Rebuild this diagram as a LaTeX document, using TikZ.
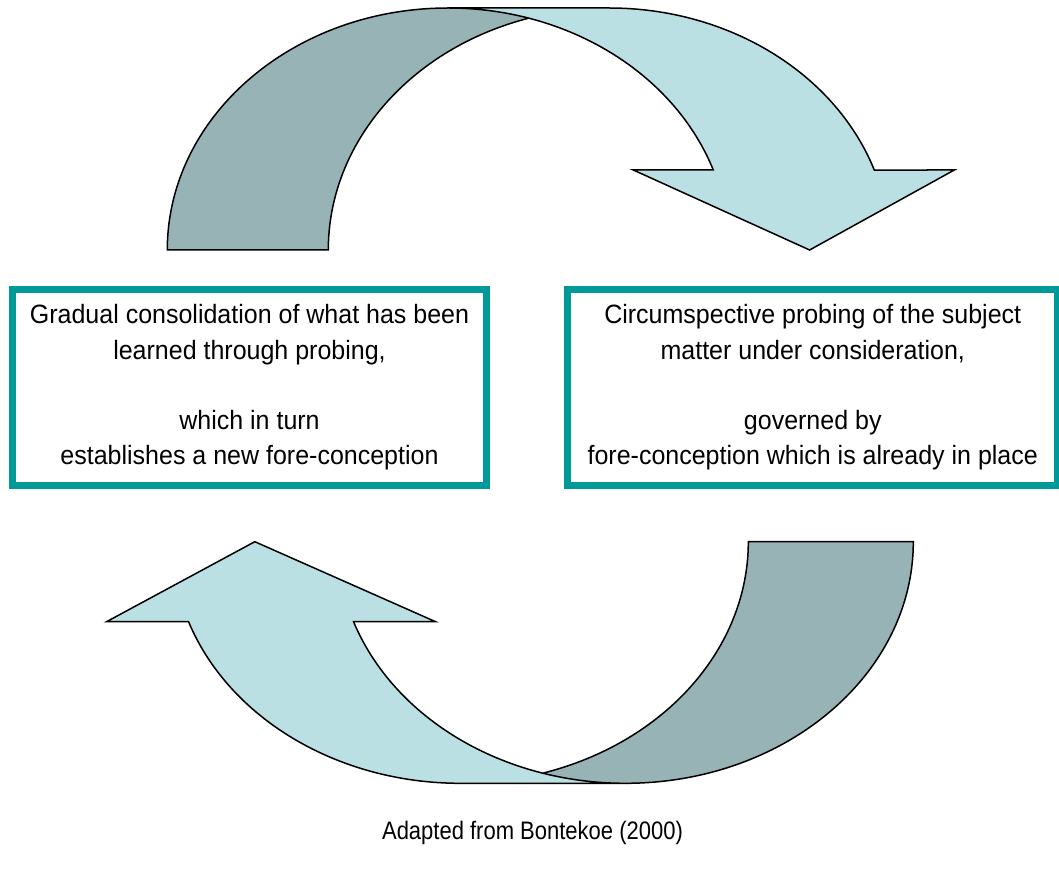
\documentclass[tikz,border=0pt]{standalone}
\usepackage{graphicx}
\usepackage{fontspec}
\setmainfont{Liberation Sans}
\definecolor{bandlight}{RGB}{187,224,227}
\definecolor{banddark}{RGB}{151,179,182}
\definecolor{boxteal}{RGB}{0,153,153}

% slightly taller lettering
\newcommand{\tallline}[1]{\scalebox{1}[1.06]{#1}}
\newcommand{\tallcaption}[1]{\scalebox{1}[1.15]{#1}}

% Curved ribbon arrow: band thickness, head width, head length,
% arc height, horizontal arc radius.  Local origin = outer corner of the foot.
\newcommand{\curvedband}[5]{%
  \pgfmathsetmacro{\bTh}{#1}%
  \pgfmathsetmacro{\bAw}{#2}%
  \pgfmathsetmacro{\bAh}{#3}%
  \pgfmathsetmacro{\bH}{#4}%
  \pgfmathsetmacro{\bR}{#5}%
  \pgfmathsetmacro{\bPhi}{asin(\bAh/\bH)}%
  \pgfmathsetmacro{\bDx}{\bR*cos(\bPhi)}%
  \pgfmathsetmacro{\bPsi}{acos(\bTh/(2*\bR))}%
  \pgfmathsetmacro{\bDh}{(\bAw-\bTh)/2}%
  \pgfmathsetmacro{\bXi}{\bR+\bDx}%
  \pgfmathsetmacro{\bXo}{\bR+\bTh+\bDx}%
  \pgfmathsetmacro{\bTip}{2*\bR+\bTh/2}%
  \pgfmathsetmacro{\bIx}{\bR+\bTh/2}%
  \pgfmathsetmacro{\bIy}{\bH*sin(\bPsi)}%
  % front face of the ribbon
  \fill[bandlight] (\bTip,0) -- ({\bXi-\bDh},\bAh) -- (\bXi,\bAh)
    arc[start angle=\bPhi, end angle=90, x radius=\bR, y radius=\bH]
    -- ++(\bTh,0)
    arc[start angle=90, end angle=\bPhi, x radius=\bR, y radius=\bH]
    -- ({\bXo+\bDh},\bAh) -- cycle;
  % back face of the ribbon
  \fill[banddark] (0,0)
    arc[start angle=180, end angle=\bPsi, x radius=\bR, y radius=\bH]
    arc[start angle={180-\bPsi}, end angle=180, x radius=\bR, y radius=\bH]
    -- cycle;
  % outline
  \draw[ribbonline] (\bIx,\bIy)
    arc[start angle={180-\bPsi}, end angle=180, x radius=\bR, y radius=\bH]
    -- (0,0)
    arc[start angle=180, end angle=90, x radius=\bR, y radius=\bH]
    -- ++(\bTh,0)
    arc[start angle=90, end angle=\bPhi, x radius=\bR, y radius=\bH]
    -- ({\bXo+\bDh},\bAh) -- (\bTip,0) -- ({\bXi-\bDh},\bAh) -- (\bXi,\bAh)
    arc[start angle=\bPhi, end angle=90, x radius=\bR, y radius=\bH];
}

\begin{document}
\begin{tikzpicture}[x=1pt,y=1pt,
  ribbonline/.style={draw=black, line width=1.5pt},
  stagebox/.style={draw=boxteal, line width=7.5pt, fill=white,
    align=center, inner sep=0pt,
    font=\fontsize{25}{35.25}\selectfont},
  caption/.style={font=\fontsize{22}{26}\selectfont}]
\useasboundingbox (0,-874) rectangle (1059,0);

% upper arrow, pointing down to the right
\begin{scope}[shift={(167.3,-250)}]
  \curvedband{161}{321}{80}{242}{280.9}
\end{scope}

% lower arrow, pointing up to the left
\begin{scope}[shift={(913.3,-541.7)}, rotate=180]
  \curvedband{165}{329}{80}{241.6}{288}
\end{scope}

\node[stagebox, minimum width=474.3pt, minimum height=196pt]
  (consolidate) at (249.5,-387.5)
  {\tallline{Gradual consolidation of what has been}\\
   \tallline{learned through probing,}\\[35.25pt]
   \tallline{which in turn}\\
   \tallline{establishes a new fore-conception}};

\node[stagebox, minimum width=490.5pt, minimum height=196pt]
  (probe) at (812.75,-387.5)
  {\tallline{Circumspective probing of the subject}\\
   \tallline{matter under consideration,}\\[35.25pt]
   \tallline{governed by}\\
   \tallline{fore-conception which is already in place}};

\node[caption] (source) at (532.5,-833) {\tallcaption{Adapted from Bontekoe (2000)}};
\end{tikzpicture}
\end{document}
